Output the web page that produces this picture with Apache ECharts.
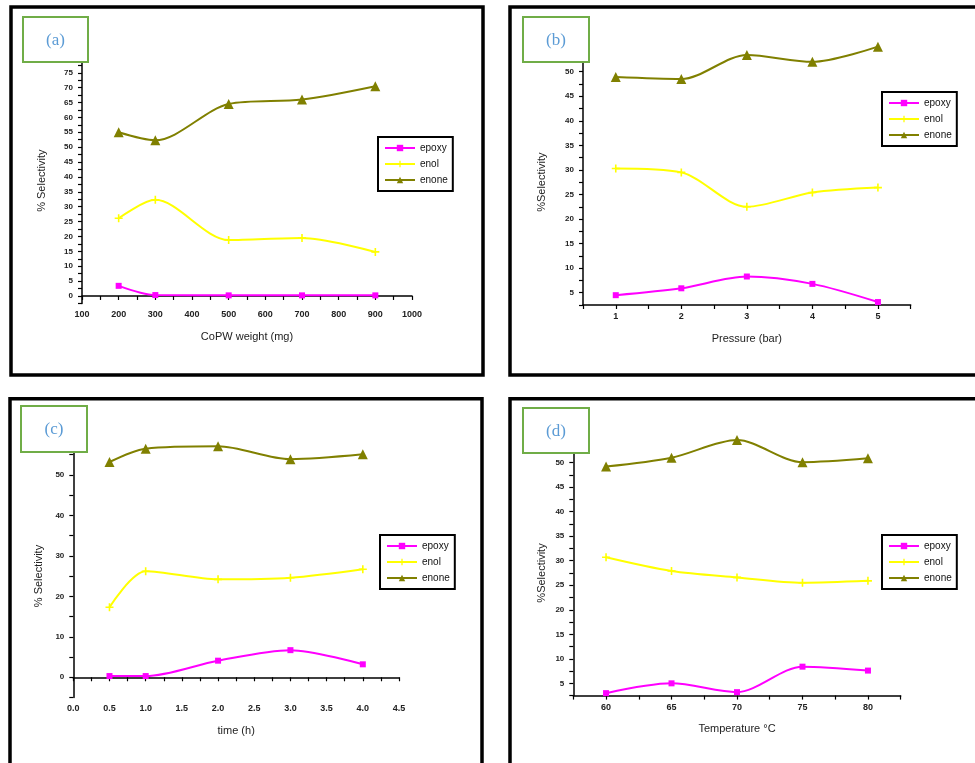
<!DOCTYPE html>
<html>
<head>
<meta charset="utf-8">
<script src="https://cdn.jsdelivr.net/npm/echarts@6/dist/echarts.min.js"></script>
<style>
  html, body { margin: 0; padding: 0; background: #fff; }
  #chart { width: 975px; height: 763px; }
</style>
</head>
<body>
<div id="chart"></div>
<script>
// (a) selectivity vs catalyst amount
const weightMg    = [200, 300, 500, 700, 900];
const weightEpoxy = [3.4, 0.3, 0.2, 0.2, 0.2];
const weightEnol  = [26.1, 32.3, 18.8, 19.5, 14.8];
const weightEnone = [55.0, 52.3, 64.5, 66.0, 70.5];

// (b) selectivity vs pressure
const pressureBar   = [1, 2, 3, 4, 5];
const pressureEpoxy = [4.5, 5.9, 8.3, 6.8, 3.1];
const pressureEnol  = [30.3, 29.5, 22.5, 25.4, 26.4];
const pressureEnone = [48.9, 48.5, 53.4, 52.0, 55.1];

// (c) selectivity vs reaction time
const timeH     = [0.5, 1, 2, 3, 4];
const timeEpoxy = [0.3, 0.3, 4.1, 6.7, 3.2];
const timeEnol  = [17.3, 26.2, 24.2, 24.6, 26.7];
const timeEnone = [53.2, 56.5, 57.1, 53.9, 55.1];

// (d) selectivity vs temperature
const tempC     = [60, 65, 70, 75, 80];
const tempEpoxy = [3.0, 5.0, 3.2, 8.4, 7.6];
const tempEnol  = [30.7, 27.9, 26.6, 25.5, 25.9];
const tempEnone = [49.2, 51.0, 54.6, 50.1, 50.9];

// tick labels
const weightTicks   = [100, 200, 300, 400, 500, 600, 700, 800, 900, 1000];
const pressureTicks = [1, 2, 3, 4, 5];
const timeTicks     = [0, 0.5, 1, 1.5, 2, 2.5, 3, 3.5, 4, 4.5];
const tempTicks     = [60, 65, 70, 75, 80];
const selTicksA     = [0, 5, 10, 15, 20, 25, 30, 35, 40, 45, 50, 55, 60, 65, 70, 75];
const selTicksBD    = [5, 10, 15, 20, 25, 30, 35, 40, 45, 50];
const selTicksC     = [0, 10, 20, 30, 40, 50];

const seriesNames = ['epoxy', 'enol', 'enone'];
const panelTags   = ['(a)', '(b)', '(c)', '(d)'];

const COLORS = { epoxy: '#ff00ff', enol: '#ffff00', enone: '#808000' };
const SYMBOLS = {
  epoxy: { symbol: 'rect', size: [6, 6] },
  enol:  { symbol: 'path://M4,0h2v4h4v2h-4v4h-2v-4h-4v-2h4z', size: 8 },
  enone: { symbol: 'triangle', size: 10 }
};

function tickFormatter(list, decimals) {
  return function (v) {
    return list.some(t => Math.abs(t - v) < 1e-6) ? v.toFixed(decimals) : '';
  };
}

function xAxis(gridIndex, min, max, interval, ticks, decimals, name) {
  return {
    type: 'value', gridIndex, min, max, interval,
    name, nameLocation: 'middle', nameGap: 28,
    nameTextStyle: { fontFamily: 'Liberation Sans', fontSize: 11, color: '#222' },
    axisLine: { lineStyle: { color: '#000', width: 1.5 } },
    axisTick: { show: true, inside: false, length: 4, lineStyle: { color: '#000', width: 1.2 } },
    axisLabel: { formatter: tickFormatter(ticks, decimals), fontFamily: 'Liberation Sans',
                 fontSize: 9, fontWeight: 'bold', color: '#222', margin: 7 },
    splitLine: { show: false }
  };
}

function yAxis(gridIndex, min, max, interval, ticks, name, gap, pad) {
  return {
    type: 'value', gridIndex, min, max, interval,
    name, nameLocation: 'middle', nameGap: gap, nameRotate: 90,
    nameTextStyle: { fontFamily: 'Liberation Sans', fontSize: 11, color: '#222', padding: pad || 0 },
    axisLine: { lineStyle: { color: '#000', width: 1.5 } },
    axisTick: { show: true, inside: false, length: 4, lineStyle: { color: '#000', width: 1.2 } },
    axisLabel: { formatter: tickFormatter(ticks, 0), fontFamily: 'Liberation Sans',
                 fontSize: 8, fontWeight: 'bold', color: '#222', margin: 9 },
    splitLine: { show: false }
  };
}

function lineSeries(name, idx, xs, ys) {
  return {
    type: 'line', name, xAxisIndex: idx, yAxisIndex: idx,
    data: xs.map((x, i) => [x, ys[i]]),
    smooth: 0.3, clip: false,
    symbol: SYMBOLS[name].symbol, symbolSize: SYMBOLS[name].size, showSymbol: true,
    lineStyle: { color: COLORS[name], width: 2 },
    itemStyle: { color: COLORS[name] },
    z: 3
  };
}

function legend(left, top) {
  return {
    data: seriesNames, orient: 'vertical', left, top,
    backgroundColor: '#fff', borderColor: '#000', borderWidth: 2,
    padding: [5, 5, 5, 6], itemGap: 4, itemWidth: 30, itemHeight: 8,
    textStyle: { fontFamily: 'Liberation Sans', fontSize: 10, color: '#111', lineHeight: 12 },
    selectedMode: false
  };
}

function frame(x, y, w, h) {
  return { type: 'rect', shape: { x, y, width: w, height: h },
           style: { fill: 'none', stroke: '#000', lineWidth: 3.5 }, z: 1 };
}

function tagBox(x, y, w, h, text) {
  return [
    { type: 'rect', shape: { x, y, width: w, height: h },
      style: { fill: '#fff', stroke: '#70ad47', lineWidth: 2 }, z: 100 },
    { type: 'text', x: x + w / 2, y: y + h / 2 + 1,
      style: { text, fill: '#5b9bd5', font: '17px "Liberation Serif"',
               textAlign: 'center', textVerticalAlign: 'middle' }, z: 101 }
  ];
}

const chart = echarts.init(document.getElementById('chart'), null, { renderer: 'canvas' });

chart.setOption({
  animation: false,
  backgroundColor: '#fff',
  grid: [
    { left: 82,    top: 57.9,  width: 330,   height: 245.5 },
    { left: 583,   top: 59.4,  width: 327.7, height: 245.6 },
    { left: 73.3,  top: 434.5, width: 325.7, height: 263 },
    { left: 573.3, top: 450.4, width: 327.4, height: 245.2 }
  ],
  xAxis: [
    xAxis(0, 100, 1000, 50, weightTicks, 0, 'CoPW weight (mg)'),
    xAxis(1, 0.5, 5.5, 0.5, pressureTicks, 0, 'Pressure (bar)'),
    xAxis(2, 0, 4.5, 0.25, timeTicks, 1, 'time (h)'),
    xAxis(3, 57.5, 82.5, 2.5, tempTicks, 0, 'Temperature \u00B0C')
  ],
  yAxis: [
    yAxis(0, -2.5, 80, 2.5, selTicksA, '% Selectivity', 35),
    yAxis(1, 2.5, 52.5, 2.5, selTicksBD, '%Selectivity', 36),
    yAxis(2, -5, 60, 5, selTicksC, '% Selectivity', 29, [0, 20, 0, 0]),
    yAxis(3, 2.5, 52.5, 2.5, selTicksBD, '%Selectivity', 26)
  ],
  legend: [legend(378, 137), legend(882, 92), legend(380, 535), legend(882, 535)],
  series: [
    lineSeries('epoxy', 0, weightMg, weightEpoxy),
    lineSeries('enol',  0, weightMg, weightEnol),
    lineSeries('enone', 0, weightMg, weightEnone),
    lineSeries('epoxy', 1, pressureBar, pressureEpoxy),
    lineSeries('enol',  1, pressureBar, pressureEnol),
    lineSeries('enone', 1, pressureBar, pressureEnone),
    lineSeries('epoxy', 2, timeH, timeEpoxy),
    lineSeries('enol',  2, timeH, timeEnol),
    lineSeries('enone', 2, timeH, timeEnone),
    lineSeries('epoxy', 3, tempC, tempEpoxy),
    lineSeries('enol',  3, tempC, tempEnol),
    lineSeries('enone', 3, tempC, tempEnone)
  ],
  graphic: [
    frame(11, 7, 472, 368),
    frame(510, 7, 480, 368),
    frame(10, 398.7, 472, 400),
    frame(510, 398.7, 480, 400),
    ...tagBox(23, 17, 65, 45, panelTags[0]),
    ...tagBox(523, 17, 66, 45, panelTags[1]),
    ...tagBox(21, 406, 66, 46, panelTags[2]),
    ...tagBox(523, 408, 66, 45, panelTags[3])
  ]
});
</script>
</body>
</html>
